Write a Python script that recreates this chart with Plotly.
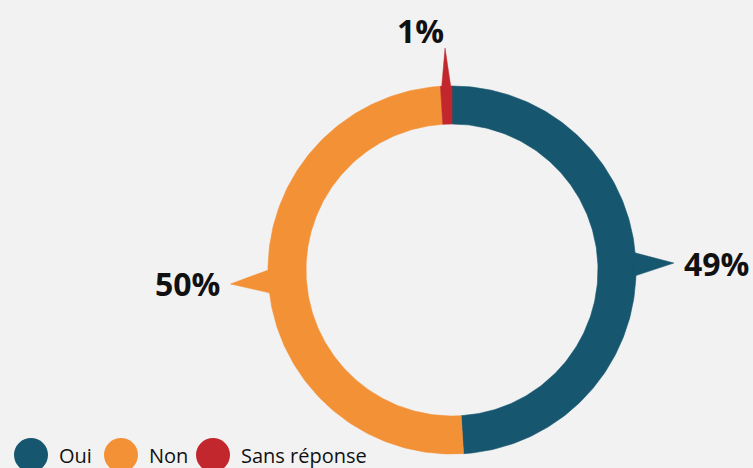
import numpy as np
import plotly.graph_objects as go

# ---- data ----
categories = ["Oui", "Non", "Sans réponse"]
values = [49, 50, 1]
labels = ["49%", "50%", "1%"]
colors = ["#16566F", "#F39137", "#C1272D"]

# ---- layout constants (pixels, centre of ring at origin) ----
W, H = 753, 468
CX, CY = 452, 270          # ring centre in screen pixels
R_OUT, R_IN = 184, 146
R_TIP = 222
HALF_BASE = 12.5
BG = "#F2F2F2"
legend_px = [31, 121, 213]
legend_py = 455
legend_text_dx = 26

fig = go.Figure()

total = float(sum(values))
start = 0.0
mids = []
for cat, v, col in zip(categories, values, colors):
    a0 = start / total * 2 * np.pi
    a1 = (start + v) / total * 2 * np.pi
    start += v
    t = np.linspace(a0, a1, 200)
    xs = np.concatenate([R_OUT * np.sin(t), R_IN * np.sin(t[::-1])])
    ys = np.concatenate([R_OUT * np.cos(t), R_IN * np.cos(t[::-1])])
    fig.add_trace(go.Scatter(x=np.append(xs, xs[0]), y=np.append(ys, ys[0]),
                             mode="lines", fill="toself", fillcolor=col,
                             line=dict(color=col, width=0.6), hoverinfo="skip",
                             showlegend=False))
    mid = (a0 + a1) / 2
    mids.append(mid)
    # pointer triangle
    arc_half = (a1 - a0) / 2 * R_OUT * 0.85
    hb = min(HALF_BASE, arc_half)
    d = hb / R_OUT
    rb = R_OUT - 3
    px = [rb * np.sin(mid - d), R_TIP * np.sin(mid), rb * np.sin(mid + d), rb * np.sin(mid - d)]
    py = [rb * np.cos(mid - d), R_TIP * np.cos(mid), rb * np.cos(mid + d), rb * np.cos(mid - d)]
    fig.add_trace(go.Scatter(x=px, y=py, mode="lines", fill="toself", fillcolor=col,
                             line=dict(color=col, width=0.5), hoverinfo="skip",
                             showlegend=False))

# value labels beyond pointer tips
for lab, mid in zip(labels, mids):
    s, c = np.sin(mid), np.cos(mid)
    tx, ty = R_TIP * s, R_TIP * c
    if abs(c) > 0.7:
        xanchor = "right" if s <= 0 else "left"
        yanchor = "bottom" if c > 0 else "top"
        ax, ay = tx + 1, ty - 6
    else:
        xanchor = "left" if s > 0 else "right"
        yanchor = "middle"
        ax, ay = tx + (8 if s > 0 else -8), ty
    fig.add_annotation(x=ax, y=ay, xref="x", yref="y", text=lab, showarrow=False,
                       xanchor=xanchor, yanchor=yanchor,
                       font=dict(family="Open Sans", size=32, color="#111111", weight="bold"))

# custom legend
for cat, col, lx in zip(categories, colors, legend_px):
    x0, y0 = lx - CX, CY - legend_py
    fig.add_trace(go.Scatter(x=[x0], y=[y0], mode="markers",
                             marker=dict(size=34, color=col, line=dict(width=0)),
                             hoverinfo="skip", showlegend=False, cliponaxis=False))
    fig.add_annotation(x=x0 + legend_text_dx, y=y0, xref="x", yref="y", text=cat,
                       showarrow=False, xanchor="left", yanchor="middle",
                       font=dict(family="Open Sans", size=20, color="#111111"))

fig.update_layout(
    width=W, height=H, margin=dict(l=0, r=0, t=0, b=0),
    paper_bgcolor=BG, plot_bgcolor=BG, showlegend=False,
    xaxis=dict(range=[-CX, W - CX], visible=False, fixedrange=True),
    yaxis=dict(range=[CY - H, CY], visible=False, fixedrange=True),
)

fig.write_html("out.html", config={"staticPlot": True},
               post_script="document.body.style.margin='0';document.body.style.overflow='hidden';")
